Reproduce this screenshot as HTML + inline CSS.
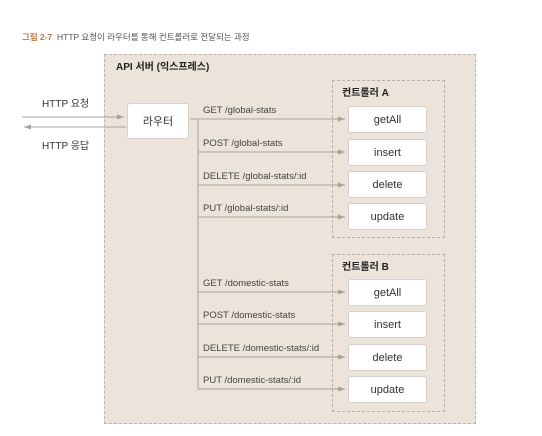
<!DOCTYPE html><html><head><meta charset="utf-8"><style>
body{margin:0;width:542px;height:436px;background:#fff;font-family:"Liberation Sans","Noto Sans CJK KR",sans-serif;position:relative;overflow:hidden}
.a{position:absolute}
.box{position:absolute;background:#fff;border:1px solid #d6d0ca;border-radius:3px;font-size:11px;color:#333;display:flex;align-items:center;justify-content:center;box-sizing:border-box}
.lbl{position:absolute;font-size:9.5px;color:#444;white-space:nowrap}
</style></head><body>
<div class="a" style="left:22px;top:31px;font-size:8.5px;color:#555;white-space:nowrap"><b style="color:#c0773a">그림 2-7</b>&nbsp; HTTP 요청이 라우터를 통해 컨트롤러로 전달되는 과정</div>
<div class="a" style="left:104px;top:54px;width:372px;height:370px;background:#ece3da;border:1px dashed #bdb5ad;box-sizing:border-box"></div>
<div class="a" style="left:116px;top:58px;font-size:10px;font-weight:bold;color:#222">API 서버 (익스프레스)</div>
<div class="a" style="left:332px;top:80px;width:113px;height:158px;border:1px dashed #b5aea7;box-sizing:border-box"></div>
<div class="a" style="left:332px;top:254px;width:113px;height:158px;border:1px dashed #b5aea7;box-sizing:border-box"></div>
<div class="a" style="left:342px;top:84px;font-size:10px;font-weight:bold;color:#222">컨트롤러 A</div>
<div class="a" style="left:342px;top:258px;font-size:10px;font-weight:bold;color:#222">컨트롤러 B</div>
<svg class="a" style="left:0;top:0" width="542" height="436">
<defs><marker id="m" markerWidth="8" markerHeight="6" refX="7" refY="3" orient="auto" markerUnits="userSpaceOnUse"><path d="M0,0.5 L7,3 L0,5.5z" fill="#a9a29b"/></marker></defs>
<g stroke="#aaa39c" stroke-width="1" fill="none">
<line x1="22" y1="117" x2="124" y2="117" marker-end="url(#m)"/>
<line x1="126" y1="127" x2="24" y2="127" marker-end="url(#m)"/>
<line x1="190" y1="119" x2="198" y2="119"/>
<line x1="198" y1="119" x2="198" y2="389"/>
<line x1="198" y1="119" x2="345" y2="119" marker-end="url(#m)"/>
<line x1="198" y1="152" x2="345" y2="152" marker-end="url(#m)"/>
<line x1="198" y1="185" x2="345" y2="185" marker-end="url(#m)"/>
<line x1="198" y1="217" x2="345" y2="217" marker-end="url(#m)"/>
<line x1="198" y1="292" x2="345" y2="292" marker-end="url(#m)"/>
<line x1="198" y1="324" x2="345" y2="324" marker-end="url(#m)"/>
<line x1="198" y1="357" x2="345" y2="357" marker-end="url(#m)"/>
<line x1="198" y1="389" x2="345" y2="389" marker-end="url(#m)"/>
</g></svg>
<div class="a" style="left:42px;top:95px;font-size:10px;color:#333">HTTP 요청</div>
<div class="a" style="left:42px;top:137px;font-size:10px;color:#333">HTTP 응답</div>
<div class="box" style="left:127px;top:103px;width:62px;height:36px">라우터</div>
<div class="lbl" style="left:203px;top:105px">GET /global-stats</div>
<div class="lbl" style="left:203px;top:138px">POST /global-stats</div>
<div class="lbl" style="left:203px;top:171px">DELETE /global-stats/:id</div>
<div class="lbl" style="left:203px;top:203px">PUT /global-stats/:id</div>
<div class="lbl" style="left:203px;top:278px">GET /domestic-stats</div>
<div class="lbl" style="left:203px;top:310px">POST /domestic-stats</div>
<div class="lbl" style="left:203px;top:343px">DELETE /domestic-stats/:id</div>
<div class="lbl" style="left:203px;top:375px">PUT /domestic-stats/:id</div>
<div class="box" style="left:348px;top:106px;width:79px;height:27px">getAll</div>
<div class="box" style="left:348px;top:139px;width:79px;height:27px">insert</div>
<div class="box" style="left:348px;top:171px;width:79px;height:27px">delete</div>
<div class="box" style="left:348px;top:203px;width:79px;height:27px">update</div>
<div class="box" style="left:348px;top:279px;width:79px;height:27px">getAll</div>
<div class="box" style="left:348px;top:311px;width:79px;height:27px">insert</div>
<div class="box" style="left:348px;top:344px;width:79px;height:27px">delete</div>
<div class="box" style="left:348px;top:376px;width:79px;height:27px">update</div>
</body></html>
